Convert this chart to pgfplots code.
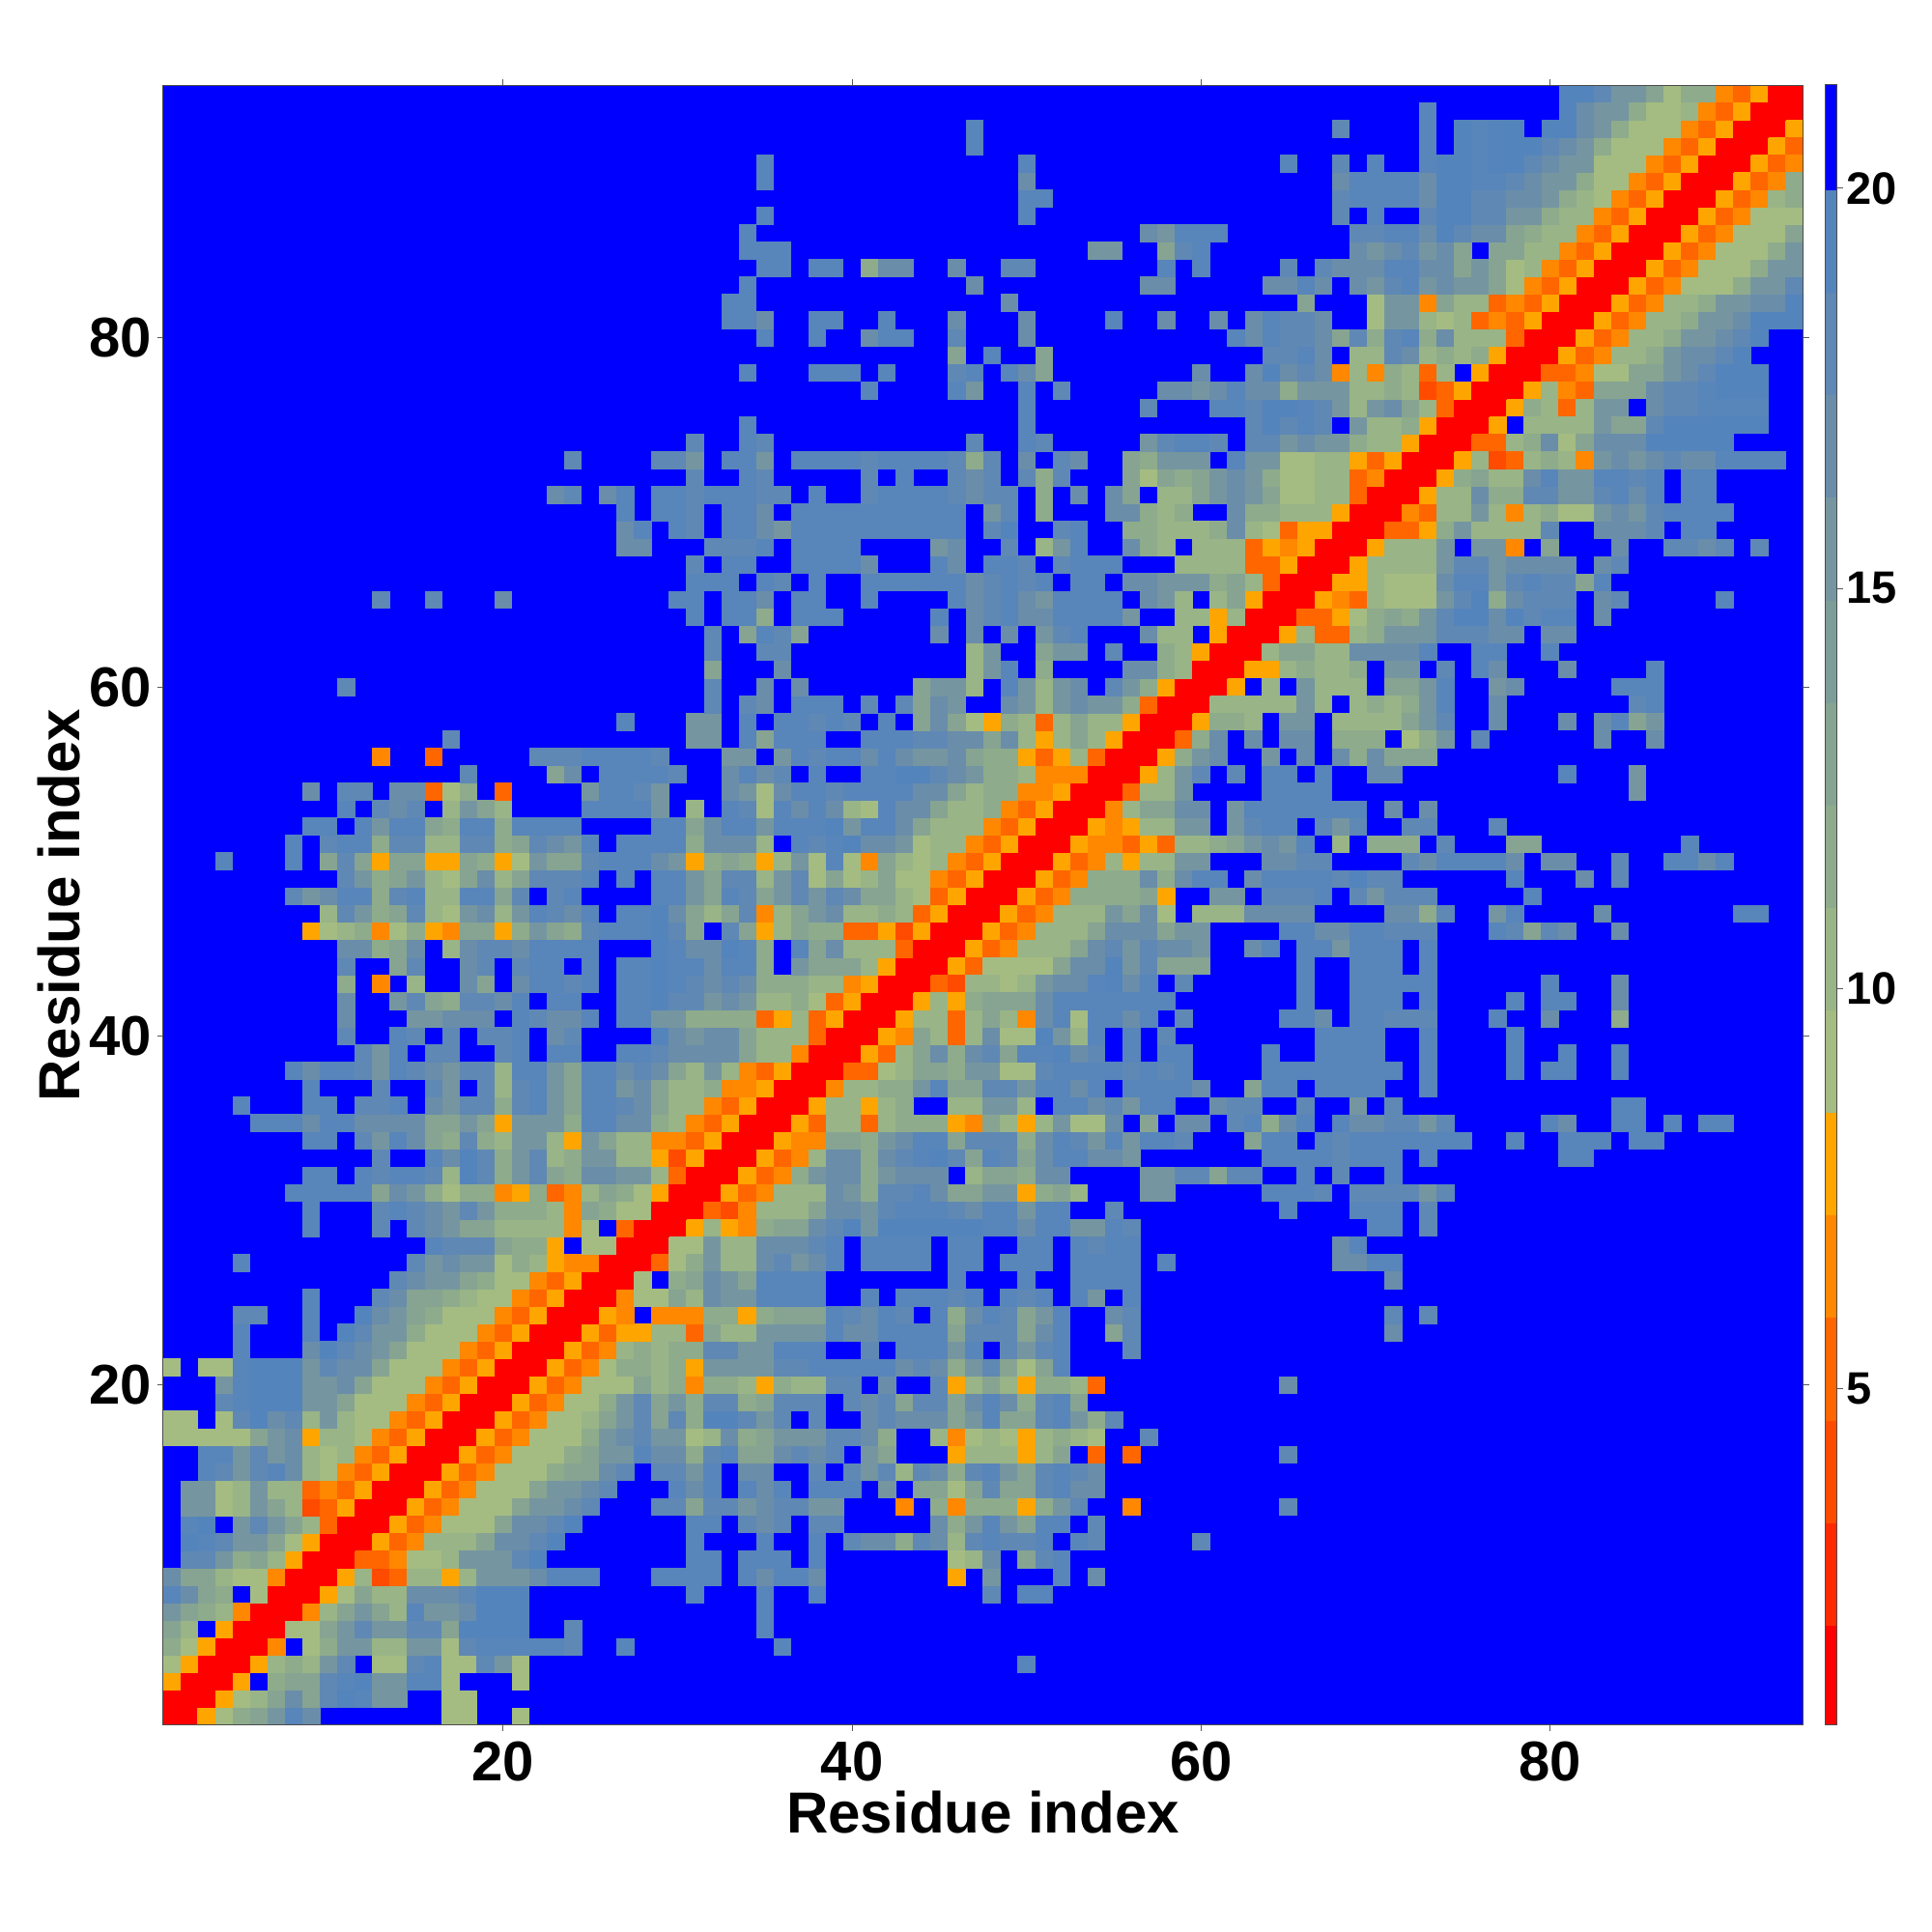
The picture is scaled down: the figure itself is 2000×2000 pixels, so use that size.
\documentclass[border=0pt]{standalone}
\usepackage{fontspec}
\setmainfont{Liberation Sans}
\usepackage{pgfplots}
\usepackage{pgfplotstable}
\pgfplotsset{compat=1.18}
\pgfplotsset{colormap={contact}{
  rgb255(1cm)=(255,0,0) rgb255(3cm)=(255,42,0) rgb255(4cm)=(255,75,0) rgb255(5cm)=(255,102,0)
  rgb255(7cm)=(255,136,0) rgb255(8cm)=(255,165,0) rgb255(9cm)=(164,188,130) rgb255(10cm)=(153,180,134)
  rgb255(12cm)=(142,171,140) rgb255(13cm)=(134,164,145) rgb255(14cm)=(117,150,160) rgb255(15cm)=(106,141,170)
  rgb255(17cm)=(95,136,180) rgb255(18cm)=(88,133,186) rgb255(19cm)=(84,132,188) rgb255(21cm)=(0,0,255)}}
% map is symmetric: one triangle, runs of cells (row, first column, length, distance), blue left out
\pgfplotstableread{
y x n v
1 1 2 1
1 3 1 8
1 4 1 9
1 5 1 12
1 6 1 13
1 7 1 14
1 8 1 18
1 9 1 15
1 17 2 9
1 21 1 9
2 2 2 1
2 4 1 8
2 5 1 9
2 6 1 10
2 7 1 13
2 8 1 15
2 9 1 13
2 10 1 17
2 11 1 19
2 12 1 18
2 13 2 14
2 17 2 9
3 3 2 1
3 5 1 8
3 7 1 12
3 8 2 13
3 10 1 17
3 11 1 18
3 12 1 19
3 13 2 14
3 15 2 18
3 17 1 9
3 21 1 9
4 4 2 1
4 6 1 8
4 7 1 10
4 8 1 12
4 9 1 10
4 10 1 14
4 11 1 17
4 13 2 9
4 15 1 17
4 16 1 18
4 17 2 9
4 19 1 17
4 20 1 14
4 21 1 9
4 50 1 18
5 5 2 1
5 7 1 7
5 9 1 9
5 10 1 12
5 11 2 14
5 13 2 10
5 15 2 14
5 17 1 9
5 18 1 17
5 19 5 18
5 24 1 17
5 27 1 18
5 36 1 18
6 6 2 1
6 8 2 9
6 10 1 13
6 11 1 14
6 12 1 17
6 13 2 14
6 15 2 17
6 17 1 13
6 18 4 19
6 24 1 17
6 35 1 18
7 7 2 1
7 9 1 7
7 10 1 10
7 11 1 13
7 12 1 14
7 13 1 13
7 14 1 10
7 15 1 18
7 16 2 14
7 18 1 15
7 19 3 19
7 35 1 18
8 8 2 1
8 10 1 8
8 11 1 9
8 12 1 13
8 13 2 10
8 15 3 15
8 18 1 17
8 19 3 19
8 31 1 18
8 35 1 18
8 38 1 18
8 48 1 17
8 50 2 18
9 9 2 1
9 11 1 8
9 12 1 10
9 13 1 4
9 14 1 5
9 15 2 10
9 17 1 8
9 18 1 10
9 19 3 14
9 22 1 15
9 23 3 18
9 29 4 18
9 34 1 18
9 35 1 15
9 36 2 18
9 38 1 15
9 46 1 8
9 48 1 14
9 52 1 18
9 54 1 15
10 10 2 1
10 12 2 5
10 14 1 7
10 15 2 9
10 17 1 10
10 18 3 14
10 21 1 17
10 22 1 19
10 31 2 18
10 34 3 18
10 38 1 18
10 46 1 9
10 47 1 10
10 48 1 15
10 50 1 13
10 51 1 17
10 52 1 18
11 11 2 1
11 13 1 8
11 14 1 5
11 15 1 7
11 16 3 10
11 19 1 13
11 20 2 15
11 22 1 17
11 23 1 19
11 31 1 18
11 35 1 18
11 38 1 18
11 40 1 17
11 41 2 15
11 43 1 12
11 44 1 17
11 45 1 15
11 46 1 10
11 47 1 17
11 48 1 18
11 49 2 17
11 51 1 18
11 53 1 18
11 54 1 17
11 60 1 17
12 12 2 1
12 14 1 8
12 15 1 5
12 16 1 7
12 17 3 9
12 20 1 13
12 21 2 15
12 23 1 17
12 24 1 19
12 31 2 18
12 34 1 17
12 35 1 15
12 36 1 17
12 38 2 17
12 45 1 15
12 46 1 12
12 47 1 14
12 48 1 18
12 49 1 14
12 50 1 13
12 51 2 18
12 54 1 17
13 13 2 1
13 15 1 8
13 16 1 5
13 17 1 7
13 18 3 9
13 21 1 13
13 22 2 14
13 24 1 15
13 25 1 17
13 29 2 17
13 31 1 13
13 32 2 17
13 34 1 14
13 35 1 15
13 36 2 17
13 38 2 14
13 43 1 7
13 45 1 12
13 46 1 7
13 47 3 12
13 50 1 8
13 51 1 12
13 52 1 14
13 53 1 17
13 56 1 7
13 65 1 17
14 14 2 1
14 16 1 8
14 17 1 5
14 18 1 7
14 19 3 9
14 22 1 13
14 23 2 14
14 25 1 15
14 26 1 17
14 30 1 18
14 31 1 15
14 32 1 18
14 34 1 18
14 35 1 15
14 36 1 18
14 38 3 18
14 42 1 14
14 44 2 13
14 46 1 9
14 47 1 13
14 48 1 17
14 49 2 13
14 51 1 17
14 52 1 18
14 53 2 15
15 15 2 1
15 17 1 8
15 18 1 5
15 19 1 7
15 20 3 9
15 23 1 12
15 24 2 13
15 26 1 15
15 27 1 17
15 29 2 17
15 31 1 14
15 32 1 18
15 34 2 15
15 38 1 17
15 40 1 17
15 41 1 14
15 42 1 17
15 43 1 10
15 44 1 17
15 45 1 15
15 46 1 12
15 47 1 17
15 48 1 18
15 49 1 14
15 50 1 13
15 51 1 17
15 52 1 18
15 53 1 17
15 54 1 15
16 16 2 1
16 18 1 8
16 19 1 5
16 20 1 7
16 21 3 9
16 24 1 12
16 25 1 13
16 26 2 14
16 28 1 18
16 29 2 15
16 31 1 12
16 32 1 17
16 33 1 18
16 34 2 13
16 36 1 15
16 37 1 17
16 38 1 15
16 39 1 17
16 41 1 14
16 42 1 13
16 46 1 8
16 47 3 10
16 50 1 8
16 51 1 10
16 52 1 13
16 54 1 5
16 56 1 5
16 65 1 17
17 17 2 1
17 19 1 8
17 20 1 5
17 21 1 7
17 22 3 9
17 25 1 12
17 26 1 14
17 27 1 15
17 28 1 17
17 29 2 14
17 31 1 9
17 32 1 10
17 33 1 15
17 34 1 12
17 35 1 13
17 36 3 14
17 39 2 17
17 41 1 15
17 42 1 12
17 45 1 10
17 46 1 7
17 47 1 9
17 48 1 10
17 49 1 9
17 50 1 8
17 51 1 10
17 52 1 12
17 53 1 10
17 54 1 9
17 57 1 17
18 18 2 1
18 20 1 8
18 21 1 5
18 22 1 7
18 23 2 9
18 25 1 10
18 26 1 13
18 27 1 14
18 28 1 17
18 29 1 13
18 30 1 17
18 31 1 12
18 32 2 19
18 34 1 17
18 35 1 14
18 36 1 17
18 38 1 17
18 41 1 15
18 42 1 17
18 43 3 15
18 46 1 13
18 47 1 14
18 48 1 18
18 49 2 13
18 51 1 17
18 52 1 18
18 53 1 14
18 54 1 12
18 55 1 17
19 19 2 1
19 21 1 8
19 22 1 5
19 23 1 7
19 24 2 9
19 26 1 12
19 27 1 14
19 28 1 17
19 29 1 13
19 30 1 14
19 31 1 12
19 32 2 17
19 34 1 12
19 35 1 13
19 36 3 17
19 40 1 17
19 41 1 15
19 42 1 17
19 43 1 13
19 44 2 17
19 46 1 13
19 47 1 15
19 48 1 18
19 49 1 15
19 50 1 12
19 51 1 17
19 52 1 18
19 53 1 13
20 20 2 1
20 22 1 8
20 23 1 5
20 24 1 7
20 25 3 9
20 28 1 13
20 29 1 10
20 30 1 12
20 31 1 7
20 32 2 12
20 34 1 10
20 35 1 8
20 36 1 12
20 37 2 10
20 39 2 17
20 42 1 15
20 45 1 17
20 46 1 8
20 47 1 10
20 48 1 13
20 49 1 10
20 50 1 8
20 51 2 12
20 53 1 10
20 54 1 5
20 65 1 15
21 21 2 1
21 23 1 8
21 24 1 5
21 25 1 7
21 26 1 9
21 27 2 12
21 29 1 10
21 30 1 12
21 31 1 8
21 32 4 14
21 36 2 17
21 38 5 18
21 43 1 15
21 44 1 17
21 45 1 15
21 46 1 12
21 47 1 14
21 48 1 17
21 49 1 13
21 50 1 9
21 51 1 13
21 52 1 18
22 22 2 1
22 24 1 8
22 25 1 5
22 26 1 7
22 27 1 10
22 28 1 12
22 29 1 10
22 30 2 12
22 32 2 17
22 34 2 14
22 36 3 18
22 41 1 17
22 43 3 18
22 46 1 14
22 47 1 18
22 49 1 17
22 50 1 14
22 51 1 17
22 52 1 18
22 56 1 17
23 23 2 1
23 25 1 8
23 26 1 5
23 27 2 8
23 29 2 10
23 31 1 5
23 32 1 13
23 33 2 10
23 35 4 14
23 39 1 18
23 40 2 15
23 42 4 18
23 46 1 13
23 47 3 17
23 50 1 13
23 51 1 15
23 52 1 18
23 55 1 13
23 56 1 17
23 71 1 15
24 24 2 1
24 26 1 8
24 27 1 7
24 29 3 7
24 32 2 12
24 34 1 8
24 35 1 12
24 36 3 13
24 39 1 18
24 40 1 17
24 41 1 15
24 42 1 18
24 43 1 17
24 45 1 18
24 46 1 12
24 47 1 15
24 48 1 18
24 49 1 17
24 50 1 13
24 51 1 14
24 52 1 18
24 55 1 15
24 56 1 17
24 71 1 17
24 73 1 17
25 25 2 1
25 27 1 7
25 28 2 9
25 30 1 13
25 31 1 10
25 32 1 15
25 33 2 14
25 35 4 18
25 41 1 18
25 43 3 18
25 46 1 17
25 47 1 18
25 49 1 18
25 50 1 17
25 51 1 18
25 53 1 18
25 54 1 14
25 56 1 18
26 26 2 1
26 28 1 9
26 30 1 12
26 31 1 13
26 32 1 15
26 33 1 14
26 34 1 13
26 35 4 18
26 46 1 18
26 50 1 18
26 53 4 18
26 71 1 15
27 27 2 1
27 29 1 5
27 30 1 9
27 31 1 12
27 32 1 14
27 33 2 10
27 35 1 15
27 36 1 17
27 37 1 14
27 38 1 15
27 39 1 18
27 41 4 18
27 46 2 18
27 49 3 18
27 53 4 18
27 58 1 18
27 68 2 15
27 70 2 18
28 28 2 1
28 30 2 9
28 32 1 14
28 33 2 10
28 35 3 15
28 38 1 17
28 39 1 18
28 41 4 18
28 46 2 18
28 50 2 18
28 53 1 18
28 54 1 17
28 55 2 18
28 68 1 15
28 69 1 18
29 29 2 1
29 31 1 8
29 32 1 10
29 33 1 8
29 34 1 7
29 35 1 12
29 36 2 13
29 38 1 15
29 39 1 17
29 40 1 19
29 41 1 14
29 42 6 19
29 48 2 18
29 50 1 15
29 51 2 18
29 53 2 14
29 55 1 18
29 56 1 17
29 70 2 18
29 73 1 17
30 30 2 1
30 32 1 5
30 33 1 4
30 34 1 7
30 35 3 10
30 38 1 13
30 39 2 15
30 41 1 14
30 42 1 17
30 43 3 18
30 46 1 17
30 47 1 15
30 48 2 18
30 50 1 14
30 51 2 18
30 55 1 17
30 65 1 18
30 69 3 18
30 73 1 17
31 31 2 1
31 33 1 8
31 34 1 5
31 35 1 7
31 36 3 10
31 39 1 15
31 40 1 14
31 41 1 12
31 42 2 17
31 44 1 18
31 45 1 15
31 46 2 13
31 48 2 14
31 50 1 8
31 51 1 12
31 52 1 13
31 53 1 10
31 57 2 14
31 64 3 18
31 67 1 17
31 69 4 17
31 73 1 14
31 74 1 17
32 32 2 1
32 34 1 8
32 35 1 5
32 36 1 7
32 37 1 12
32 38 1 14
32 39 2 15
32 41 1 12
32 42 1 14
32 43 3 15
32 47 1 10
32 48 2 13
32 50 1 12
32 51 2 15
32 57 2 14
32 59 2 17
32 61 1 13
32 62 2 17
32 66 1 18
32 68 1 17
32 71 1 18
33 33 2 1
33 35 1 8
33 36 1 5
33 37 1 7
33 38 1 10
33 39 2 15
33 41 1 12
33 42 1 15
33 43 1 17
33 44 1 18
33 45 1 19
33 46 1 17
33 47 1 13
33 48 1 18
33 49 1 17
33 50 1 13
33 51 1 15
33 52 2 18
33 54 2 15
33 56 1 14
33 64 4 18
33 68 1 17
33 69 3 18
33 73 1 18
33 81 2 18
34 34 2 1
34 36 1 8
34 37 2 7
34 39 2 13
34 41 1 12
34 42 1 14
34 43 1 15
34 44 2 18
34 46 1 13
34 47 3 17
34 50 1 12
34 51 1 15
34 52 1 18
34 53 1 17
34 54 1 14
34 55 1 18
34 56 1 14
34 57 2 18
34 59 1 17
34 63 1 13
34 64 2 18
34 67 1 18
34 68 1 17
34 69 7 18
34 78 1 18
34 81 3 18
34 85 2 18
35 35 2 1
35 37 1 8
35 38 1 5
35 39 2 10
35 41 1 5
35 42 1 10
35 43 3 12
35 46 1 8
35 47 1 7
35 48 1 13
35 49 1 10
35 50 1 8
35 51 1 10
35 52 1 14
35 53 2 9
35 55 1 15
35 57 1 13
35 59 2 15
35 62 1 17
35 63 1 18
35 64 1 12
35 65 1 15
35 66 1 18
35 68 1 18
35 69 2 15
35 71 2 17
35 73 1 14
35 74 1 17
35 80 1 18
35 81 1 15
35 84 2 18
35 87 1 18
35 89 2 18
36 36 2 1
36 38 1 8
36 39 2 10
36 41 1 8
36 42 1 10
36 43 1 12
36 46 2 10
36 48 2 14
36 50 1 10
36 52 2 18
36 54 1 15
36 55 1 17
36 56 1 14
36 57 2 18
36 61 1 15
36 62 2 17
36 66 1 17
36 69 1 14
36 71 1 17
36 84 2 18
37 37 2 1
37 39 1 7
37 40 2 10
37 42 2 12
37 44 1 14
37 45 1 18
37 46 2 13
37 48 2 17
37 50 1 14
37 51 2 18
37 53 1 15
37 54 1 18
37 56 4 18
37 60 1 15
37 63 1 13
37 64 2 18
37 67 4 18
37 73 1 18
38 38 2 1
38 40 2 5
38 42 1 9
38 43 1 10
38 44 2 13
38 46 1 12
38 47 2 14
38 49 2 9
38 51 1 17
38 52 4 18
38 56 1 17
38 57 1 18
38 58 1 17
38 59 1 18
38 64 8 18
38 73 1 18
38 78 1 18
38 80 2 18
38 84 1 18
39 39 2 1
39 41 1 8
39 42 1 5
39 43 1 10
39 44 1 13
39 45 1 15
39 46 1 12
39 47 1 15
39 48 1 17
39 49 1 13
39 50 2 18
39 52 1 19
39 53 1 15
39 54 1 17
39 56 1 18
39 58 2 18
39 64 1 18
39 67 4 18
39 73 1 18
39 78 1 18
39 81 1 18
39 84 1 18
40 40 2 1
40 42 1 8
40 43 1 7
40 44 1 13
40 45 1 10
40 46 1 5
40 47 1 10
40 48 1 15
40 49 2 9
40 51 1 19
40 52 1 14
40 53 1 10
40 54 1 18
40 56 1 18
40 58 1 17
40 67 4 18
40 73 1 18
40 78 1 18
41 41 2 1
41 43 1 8
41 44 2 10
41 46 1 5
41 47 1 10
41 48 1 13
41 49 1 10
41 50 1 7
41 51 1 15
41 52 1 18
41 53 1 9
41 54 2 18
41 56 1 15
41 57 1 18
41 59 1 17
41 65 2 18
41 67 1 15
41 69 2 18
41 71 3 17
41 77 1 18
41 80 1 15
41 84 1 12
42 42 2 1
42 44 1 8
42 45 1 10
42 46 1 8
42 47 1 12
42 48 3 13
42 51 1 15
42 52 7 18
42 66 1 18
42 69 3 18
42 73 1 18
42 78 1 18
42 80 2 18
42 84 1 15
43 43 2 1
43 45 1 5
43 46 1 4
43 47 2 10
43 49 1 9
43 50 1 10
43 51 1 14
43 52 2 15
43 54 1 18
43 55 1 19
43 56 1 15
43 57 1 18
43 59 1 17
43 66 1 18
43 69 5 18
43 80 1 18
43 84 1 15
44 44 2 1
44 46 1 8
44 47 1 5
44 48 4 9
44 52 1 13
44 53 2 15
44 55 1 19
44 56 1 14
44 57 1 17
44 58 3 13
44 66 1 18
44 69 3 18
44 73 1 18
45 45 2 1
45 47 1 8
45 48 1 5
45 49 1 7
45 50 3 10
45 53 1 13
45 54 1 15
45 55 1 17
45 56 1 14
45 57 1 17
45 58 2 15
45 60 1 14
45 63 1 15
45 64 1 18
45 66 2 18
45 68 1 14
45 69 3 18
45 73 1 18
46 46 2 1
46 48 1 8
46 49 1 5
46 50 1 7
46 51 3 10
46 54 1 13
46 55 3 15
46 58 1 13
46 59 2 14
46 65 2 18
46 67 2 15
46 69 2 18
46 71 3 17
46 77 1 18
46 78 1 17
46 79 1 13
46 80 1 17
46 81 1 15
46 84 1 15
47 47 2 1
47 49 1 8
47 50 1 5
47 51 1 7
47 52 3 10
47 55 1 14
47 56 1 13
47 57 1 15
47 58 1 9
47 60 3 10
47 63 4 15
47 71 2 15
47 73 1 12
47 74 1 17
47 77 1 14
47 78 1 18
47 83 1 15
47 91 2 18
48 48 2 1
48 50 1 8
48 51 1 5
48 52 1 7
48 53 4 12
48 57 1 13
48 58 1 8
48 61 2 14
48 64 3 17
48 67 1 18
48 69 1 17
48 70 1 14
48 71 3 17
48 79 1 18
49 49 2 1
49 51 1 8
49 52 1 5
49 53 1 7
49 54 3 12
49 57 1 15
49 58 1 12
49 59 1 15
49 60 2 18
49 63 1 15
49 64 4 18
49 68 1 17
49 69 1 19
49 70 2 17
49 78 1 18
49 82 1 15
49 84 1 17
50 50 2 1
50 52 1 8
50 53 1 5
50 54 1 7
50 55 1 10
50 56 1 8
50 57 2 10
50 59 2 14
50 64 2 15
50 66 2 17
50 72 1 17
50 73 1 15
50 74 4 18
50 78 1 15
50 80 2 15
50 84 1 17
50 87 2 18
50 89 1 15
50 90 1 18
51 51 2 1
51 53 1 8
51 54 2 7
51 56 1 5
51 57 1 8
51 58 1 5
51 59 2 10
51 61 1 12
51 62 1 13
51 63 1 14
51 64 1 15
51 65 1 14
51 66 1 18
51 68 1 10
51 70 3 12
51 74 1 17
51 78 2 13
51 88 1 18
52 52 2 1
52 54 1 8
52 55 1 7
52 56 1 8
52 57 2 10
52 59 2 14
52 62 1 14
52 63 1 17
52 64 2 18
52 67 1 17
52 68 1 14
52 69 1 17
52 72 2 17
52 77 1 17
53 53 2 1
53 55 1 7
53 56 1 10
53 57 2 13
53 59 2 15
53 62 1 14
53 63 7 18
53 71 1 15
53 73 1 15
54 54 2 1
54 56 1 5
54 57 2 10
54 59 1 14
54 64 4 18
54 85 1 14
55 55 2 1
55 57 1 8
55 58 1 10
55 59 1 14
55 60 1 17
55 62 1 17
55 64 2 18
55 67 1 18
55 70 2 15
55 81 1 18
55 85 1 14
56 56 2 1
56 58 1 8
56 59 1 12
56 60 1 14
56 61 1 15
56 64 1 14
56 66 1 15
56 68 1 15
56 69 1 12
56 70 1 15
56 71 3 13
57 57 2 1
57 59 1 5
57 60 1 12
57 61 1 15
57 63 1 15
57 65 2 15
57 68 3 12
57 72 1 9
57 73 1 12
57 74 1 14
57 76 1 17
57 83 1 15
57 86 1 15
58 58 2 1
58 60 1 8
58 61 2 12
58 63 1 10
58 65 2 14
58 68 4 10
58 72 1 13
58 73 1 14
58 74 1 17
58 77 1 15
58 81 1 15
58 83 1 15
58 84 1 18
58 85 1 13
58 86 1 14
59 59 2 1
59 61 5 10
59 66 1 14
59 67 1 10
59 69 1 10
59 70 1 12
59 71 1 10
59 72 1 12
59 73 1 14
59 74 1 18
59 77 1 15
59 85 1 17
59 86 1 18
60 60 2 1
60 62 1 8
60 64 1 10
60 66 1 14
60 67 3 10
60 71 2 13
60 73 1 14
60 74 1 18
60 77 1 14
60 78 1 15
60 84 3 18
61 61 2 1
61 63 2 8
61 65 1 10
61 66 1 12
61 67 2 10
61 69 1 12
61 71 2 14
61 74 1 17
61 76 1 18
61 77 1 15
61 81 1 15
61 86 1 18
62 62 2 1
62 64 1 10
62 65 2 13
62 67 2 10
62 69 4 15
62 73 1 18
62 76 2 18
62 80 1 18
63 63 2 1
63 65 1 8
63 66 1 10
63 67 2 5
63 69 1 10
63 70 1 12
63 71 3 14
63 74 3 17
63 77 2 15
63 80 2 15
64 64 2 1
64 66 2 5
64 68 1 8
64 69 1 9
64 70 1 12
64 71 1 13
64 72 1 12
64 73 1 14
64 74 1 17
64 75 2 19
64 77 1 15
64 78 1 19
64 79 1 17
64 80 2 18
64 83 1 15
65 65 2 1
65 67 1 8
65 68 1 7
65 69 1 5
65 70 1 10
65 71 3 9
65 74 1 14
65 75 1 17
65 76 1 19
65 77 1 12
65 78 1 15
65 79 3 17
65 83 1 15
65 84 1 17
65 90 1 18
66 66 2 1
66 68 2 8
66 70 1 10
66 71 3 9
66 74 1 15
66 75 2 18
66 77 1 14
66 78 1 17
66 79 1 18
66 80 2 17
66 82 1 13
66 83 1 18
67 67 2 1
67 69 1 8
67 70 4 10
67 74 1 14
67 75 2 17
67 77 1 14
67 78 4 15
67 83 1 15
67 84 1 17
68 68 2 1
68 70 1 8
68 71 3 10
68 74 1 14
68 76 2 14
68 78 1 7
68 80 1 13
68 84 1 15
68 87 2 17
68 89 1 15
68 90 1 17
68 92 1 17
69 69 2 1
69 71 2 5
69 73 1 8
69 74 1 12
69 75 1 14
69 76 4 10
69 80 1 17
69 83 3 15
69 86 1 17
69 88 2 18
70 70 2 1
70 72 1 7
70 73 1 5
70 74 2 10
70 76 1 14
70 77 1 10
70 78 1 7
70 79 1 10
70 80 1 12
70 81 2 9
70 83 1 14
70 84 1 15
70 85 1 14
70 86 1 17
70 87 4 18
71 71 2 1
71 73 1 8
71 74 2 10
71 76 1 15
71 77 2 12
71 79 2 17
71 81 2 14
71 83 1 17
71 84 1 18
71 85 1 15
71 86 1 18
71 88 2 18
72 72 2 1
72 74 1 8
72 75 1 12
72 76 1 13
72 77 2 10
72 79 1 15
72 80 1 18
72 81 2 14
72 83 2 18
72 85 1 17
72 86 1 18
72 88 2 18
73 73 2 1
73 75 1 8
73 76 1 10
73 77 1 4
73 78 1 5
73 79 1 10
73 80 1 12
73 81 1 10
73 82 1 7
73 83 1 14
73 84 1 15
73 85 1 14
73 86 1 15
73 87 1 17
73 88 2 15
73 90 4 18
74 74 2 1
74 76 2 5
74 78 1 10
74 79 1 12
74 80 1 15
74 81 1 9
74 82 1 13
74 83 3 15
74 86 5 19
75 75 2 1
75 77 1 8
75 79 4 10
75 83 1 14
75 84 2 13
75 86 1 17
75 87 6 19
76 76 2 1
76 78 1 8
76 79 1 12
76 80 1 10
76 81 1 5
76 82 1 10
76 83 2 14
76 86 1 15
76 87 2 17
76 89 4 18
77 77 2 1
77 79 1 8
77 80 1 10
77 81 1 7
77 82 1 5
77 83 3 13
77 86 1 15
77 87 2 17
77 89 1 18
77 90 3 19
78 78 2 1
78 80 2 5
78 82 1 7
78 83 2 9
78 85 2 13
78 87 1 14
78 88 1 15
78 89 1 17
78 90 3 19
79 79 2 1
79 81 1 8
79 82 1 5
79 83 1 7
79 84 2 10
79 86 1 12
79 87 1 14
79 88 2 15
79 90 1 17
79 91 1 19
80 80 2 1
80 82 1 8
80 83 1 5
80 84 1 7
80 85 2 10
80 87 1 12
80 88 2 14
80 90 1 15
80 91 1 17
80 92 1 19
81 81 2 1
81 83 1 8
81 84 1 5
81 85 1 7
81 86 2 10
81 88 1 12
81 89 2 14
81 91 1 15
81 92 3 19
82 82 2 1
82 84 1 8
82 85 1 5
82 86 1 7
82 87 2 10
82 89 1 12
82 90 2 14
82 92 2 15
82 94 1 19
83 83 2 1
83 85 1 8
83 86 1 5
83 87 1 7
83 88 3 9
83 91 1 12
83 92 2 14
83 94 1 17
84 84 2 1
84 86 1 8
84 87 1 5
84 88 1 7
84 89 3 9
84 92 1 12
84 93 2 14
85 85 2 1
85 87 1 8
85 88 1 5
85 89 1 7
85 90 3 9
85 93 1 12
85 94 1 14
86 86 2 1
86 88 1 8
86 89 1 5
86 90 1 7
86 91 3 9
86 94 1 13
87 87 2 1
87 89 1 8
87 90 1 5
87 91 1 7
87 92 3 9
88 88 2 1
88 90 1 8
88 91 1 5
88 92 1 7
88 93 1 10
88 94 1 12
89 89 2 1
89 91 1 8
89 92 1 5
89 93 1 7
89 94 1 12
90 90 2 1
90 92 1 8
90 93 1 5
90 94 1 7
91 91 2 1
91 93 1 8
91 94 1 5
92 92 2 1
92 94 1 8
93 93 2 1
94 94 1 1
}\contacts
\pgfplotstableread{
low m
0.75 1
2.03 3
3.31 4
4.59 5
5.88 7
7.16 8
8.44 9
9.72 10
11.0 12
12.28 13
13.56 13.5
14.84 14
16.13 15
17.41 17
18.69 19
19.97 21
}\bands
\begin{document}
\begin{tikzpicture}
\path[use as bounding box] (0,0) rectangle (2000pt,2000pt);
\begin{axis}[
    at={(168.7pt,214pt)},
    scale only axis,
    width=1698pt,
    height=1698pt,
    xmin=0.5,xmax=94.5,
    ymin=0.5,ymax=94.5,
    xtick={20,40,60,80},
    ytick={20,40,60,80},
    tick align=outside,
    major tick length=6pt,
    tick style={gray!70!black,line width=0.9pt},
    axis line style={gray!60!black,line width=1pt},
    axis on top,
    axis background/.style={fill=blue},
    colormap name=contact,
    point meta min=1,
    point meta max=21,
    /pgf/number format/assume math mode=true,
    tick label style={font=\fontsize{58}{58}\selectfont\bfseries},
    xticklabel style={yshift=-7pt},
    yticklabel style={xshift=-2pt},
    xlabel={Residue index},
    ylabel={Residue index},
    label style={font=\fontsize{60}{60}\selectfont\bfseries},
    xlabel style={at={(axis description cs:0.5,0)},anchor=center,yshift=-90pt},
    ylabel style={at={(axis description cs:0,0.5)},anchor=center,yshift=108pt},
]
\addplot[line width=18.3pt,quiver={u=\thisrow{n}+0.04,v=0,colored=mapped color},point meta=\thisrow{v}]
    table[x expr=\thisrow{x}-0.52,y=y] {\contacts};
\addplot[line width=18.3pt,quiver={u=0,v=\thisrow{n}+0.04,colored=mapped color},point meta=\thisrow{v}]
    table[x=y,y expr=\thisrow{x}-0.52] {\contacts};
\end{axis}
\begin{axis}[
    at={(1889pt,214pt)},
    scale only axis,
    width=12.7pt,
    height=1698pt,
    xmin=0,xmax=1,
    ymin=0.79,ymax=21.29,
    xtick=\empty,
    ytick={5,10,15,20},
    ytick pos=right,
    yticklabel pos=right,
    tick align=outside,
    major tick length=6pt,
    tick style={gray!70!black,line width=0.9pt},
    axis line style={gray!60!black,line width=1pt},
    axis on top,
    colormap name=contact,
    point meta min=1,
    point meta max=21,
    /pgf/number format/assume math mode=true,
    tick label style={font=\fontsize{47}{47}\selectfont\bfseries},
]
\addplot[line width=12.7pt,quiver={u=0,v=1.34,colored=mapped color},point meta=\thisrow{m}]
    table[x expr=0.5,y=low] {\bands};
\end{axis}
\end{tikzpicture}
\end{document}
